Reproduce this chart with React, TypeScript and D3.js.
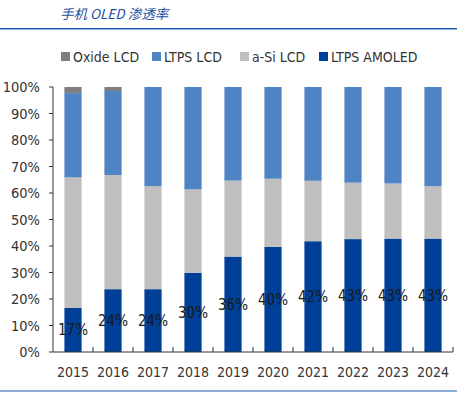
import * as d3 from "d3";
import React, { useEffect, useRef } from "react";

const years = ["2015", "2016", "2017", "2018", "2019", "2020", "2021", "2022", "2023", "2024"];
const ltpsAmoled = [16.6, 23.7, 23.7, 29.9, 36.0, 39.7, 41.8, 42.6, 42.8, 42.8];
const aSiLcd = [49.3, 43.1, 38.9, 31.5, 28.7, 25.7, 22.8, 21.3, 20.8, 19.8];
const ltpsLcd = [31.8, 31.7, 37.4, 38.6, 35.3, 34.6, 35.4, 36.1, 36.4, 37.4];
const oxideLcd = [2.3, 1.5, 0, 0, 0, 0, 0, 0, 0, 0];
const yTicks = [0, 10, 20, 30, 40, 50, 60, 70, 80, 90, 100];

const seriesNames = ["Oxide LCD", "LTPS LCD", "a-Si LCD", "LTPS AMOLED"];
const seriesColors = ["#7f7f7f", "#4f84c4", "#bfbfbf", "#003f98"];

const FONT = "'DejaVu Sans Condensed', 'DejaVu Sans', sans-serif";

const App: React.FC = () => {
  const ref = useRef<SVGSVGElement>(null);

  useEffect(() => {
    if (!ref.current) return;
    const svg = d3.select(ref.current);
    svg.selectAll("*").remove();

    const width = 457;
    const left = 53,
      right = 453,
      top = 87,
      bottom = 352;

    const rows = years.map((y, i) => ({
      year: y,
      amoled: ltpsAmoled[i],
      asi: aSiLcd[i],
      ltps: ltpsLcd[i],
      oxide: oxideLcd[i],
    }));

    const x = d3.scaleBand<string>().domain(years).range([left, right]).paddingInner(0.57).paddingOuter(0.285);
    const y = d3.scaleLinear().domain([0, 100]).range([bottom, top]);

    // title + rules
    svg
      .append("text")
      .attr("x", 60)
      .attr("y", 19)
      .attr("font-family", "'Noto Sans CJK SC', sans-serif")
      .attr("font-style", "italic")
      .attr("font-size", 13.5)
      .attr("fill", "#1f4f9f")
      .text("手机 OLED 渗透率");
    svg.append("line").attr("x1", 0).attr("x2", width).attr("y1", 28.7).attr("y2", 28.7)
      .attr("stroke", "#1b5fae").attr("stroke-width", 1.5);
    svg.append("line").attr("x1", 0).attr("x2", width).attr("y1", 391).attr("y2", 391)
      .attr("stroke", "#1b5fae").attr("stroke-width", 1.2);

    // legend
    const legendX = [61, 152, 240, 319];
    const legend = svg.append("g");
    seriesNames.forEach((name, i) => {
      legend.append("rect").attr("x", legendX[i]).attr("y", 52).attr("width", 9).attr("height", 9)
        .attr("fill", seriesColors[i]);
      legend.append("text").attr("x", legendX[i] + 12).attr("y", 61.5)
        .attr("font-family", FONT).attr("font-size", 14).attr("fill", "#333").text(name);
    });

    // stacked bars
    const stack = d3.stack<any>().keys(["amoled", "asi", "ltps", "oxide"]);
    const layers = stack(rows);
    const colorByKey: Record<string, string> = {
      amoled: seriesColors[3],
      asi: seriesColors[2],
      ltps: seriesColors[1],
      oxide: seriesColors[0],
    };
    svg
      .append("g")
      .selectAll("g")
      .data(layers)
      .join("g")
      .attr("fill", (d) => colorByKey[d.key])
      .selectAll("rect")
      .data((d) => d)
      .join("rect")
      .attr("x", (d) => x(d.data.year)!)
      .attr("width", x.bandwidth())
      .attr("y", (d) => y(d[1]))
      .attr("height", (d) => Math.max(0, y(d[0]) - y(d[1])));

    // value labels
    svg
      .append("g")
      .selectAll("text")
      .data(rows)
      .join("text")
      .attr("x", (d) => x(d.year)! + x.bandwidth() / 2)
      .attr("y", (d) => y(d.amoled / 2))
      .attr("dy", "0.36em")
      .attr("text-anchor", "middle")
      .attr("font-family", FONT)
      .attr("font-size", 15)
      .attr("fill", "#1a1a1a")
      .text((d) => `${Math.round(d.amoled)}%`);

    // y axis
    const yAxis = svg.append("g").attr("stroke", "#333").attr("stroke-width", 1);
    yAxis.append("line").attr("x1", left).attr("x2", left).attr("y1", top).attr("y2", bottom);
    yTicks.forEach((t) => {
      yAxis.append("line").attr("x1", left - 4).attr("x2", left).attr("y1", y(t)).attr("y2", y(t));
      svg.append("text").attr("x", 40).attr("y", y(t)).attr("dy", "0.36em").attr("text-anchor", "end")
        .attr("font-family", FONT).attr("font-size", 14.5).attr("fill", "#333").text(`${t}%`);
    });

    // x axis
    const xAxis = svg.append("g").attr("stroke", "#333").attr("stroke-width", 1);
    xAxis.append("line").attr("x1", left).attr("x2", right).attr("y1", bottom).attr("y2", bottom);
    years.forEach((yr, i) => {
      const bx = left + x.step() * (i + 1);
      xAxis.append("line").attr("x1", bx).attr("x2", bx).attr("y1", bottom - 5).attr("y2", bottom);
      svg.append("text").attr("x", x(yr)! + x.bandwidth() / 2).attr("y", 372).attr("dy", "0.36em")
        .attr("text-anchor", "middle").attr("font-family", FONT).attr("font-size", 14).attr("fill", "#333")
        .text(yr);
    });
  }, []);

  return (
    <svg
      ref={ref}
      width={457}
      height={393}
      style={{ position: "absolute", left: 0, top: 0, background: "#fff" }}
    />
  );
};

export default App;
